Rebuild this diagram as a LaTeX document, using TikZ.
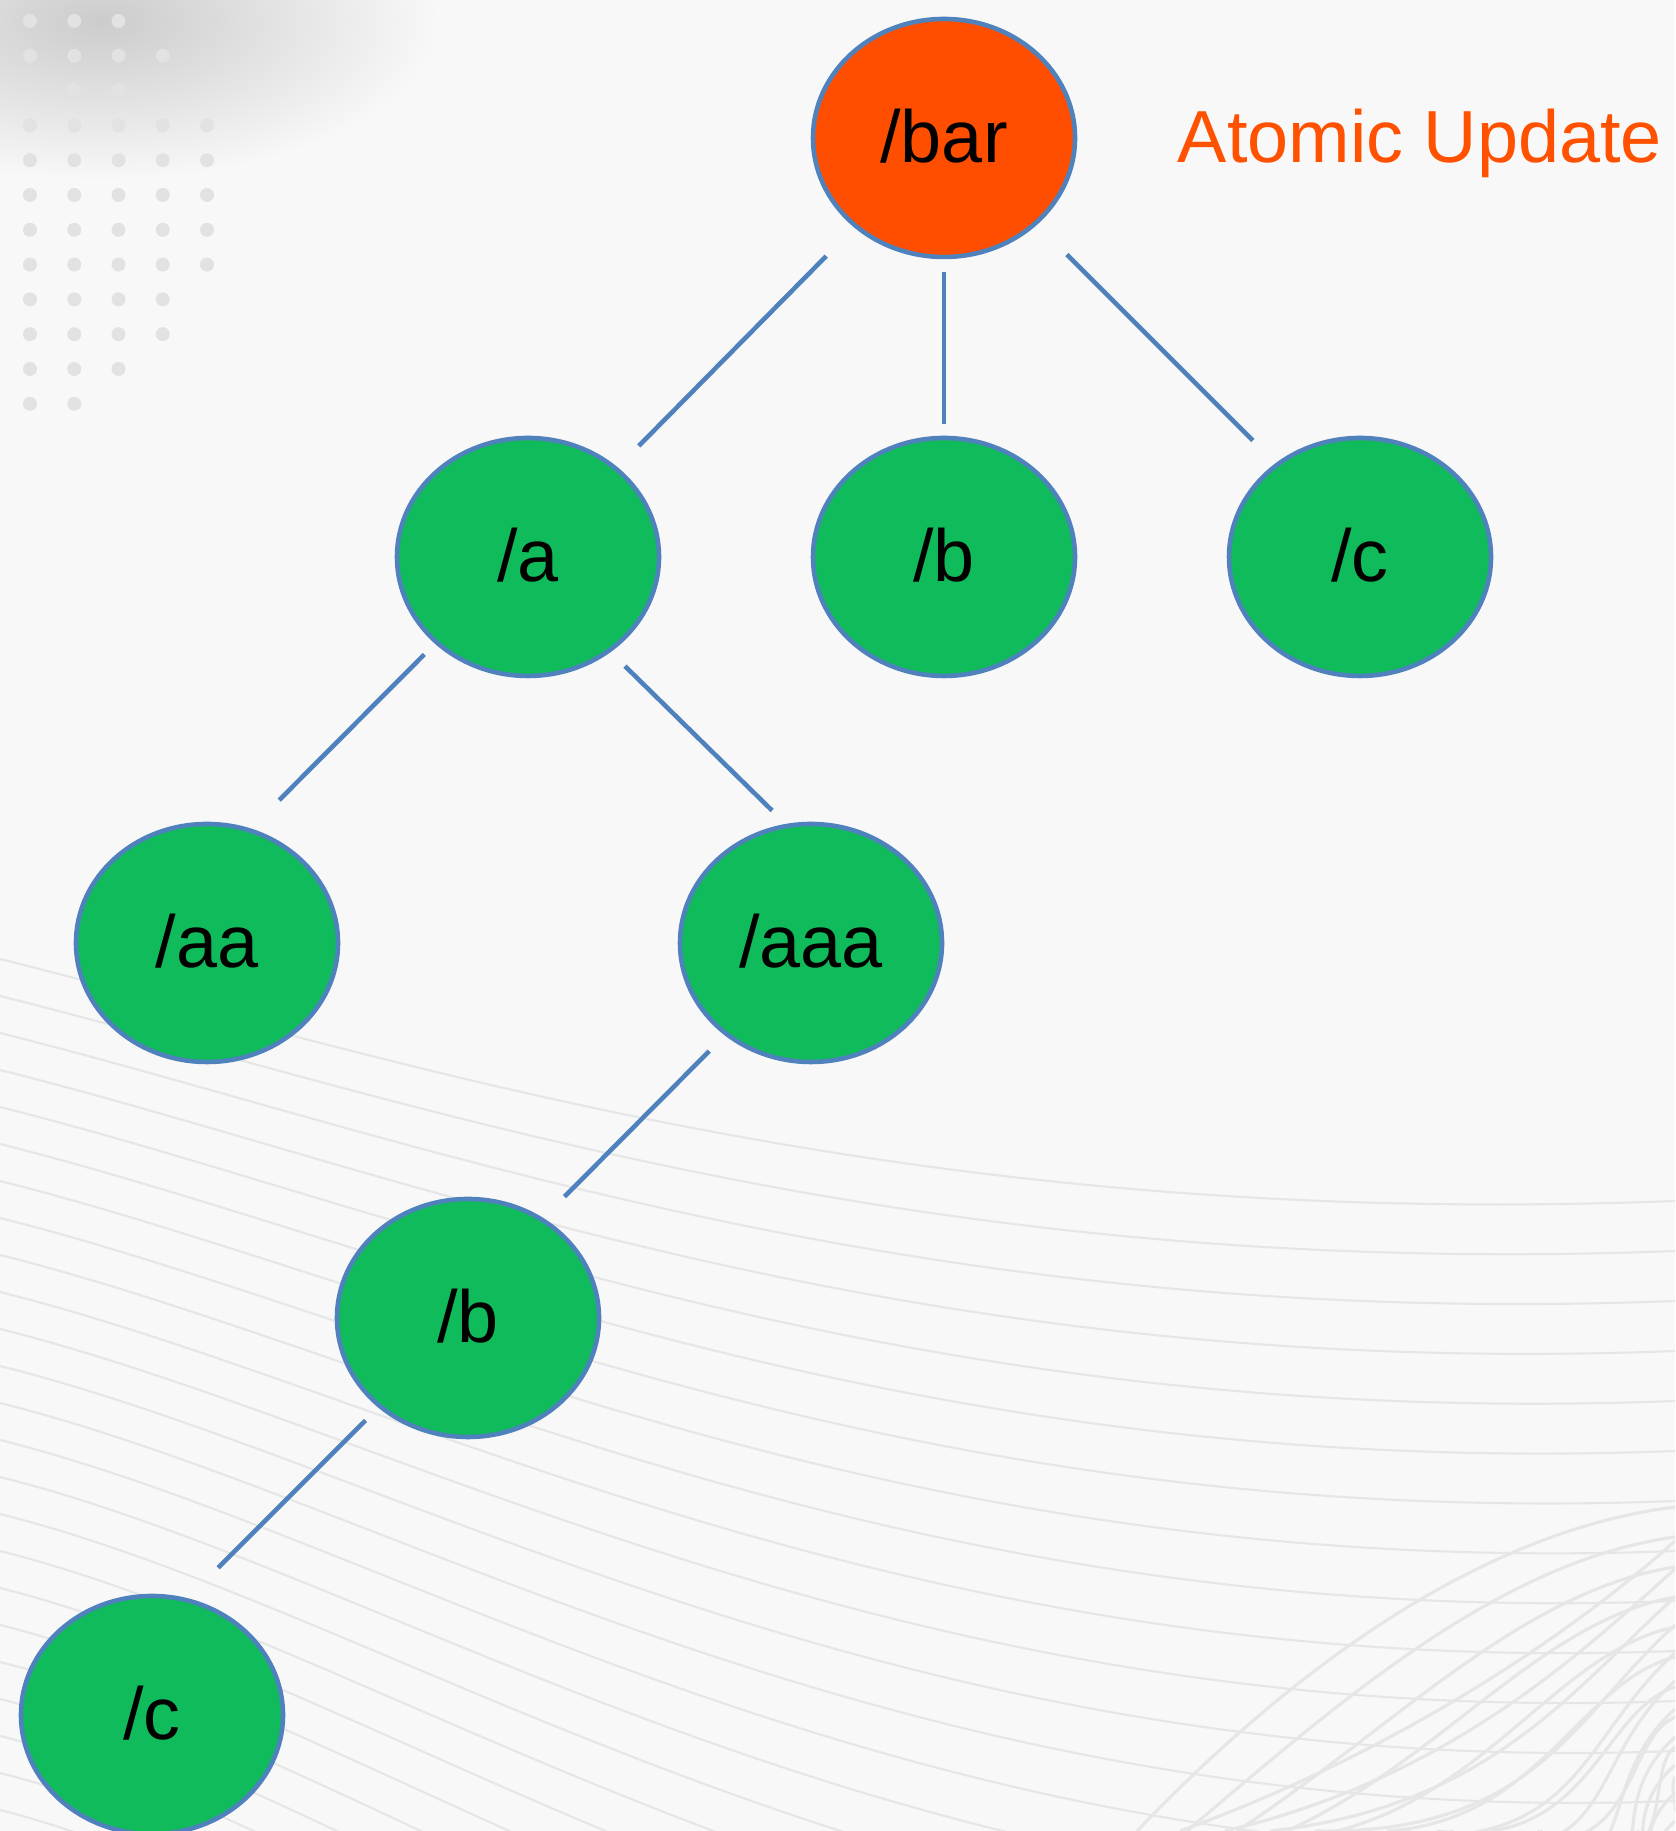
\documentclass[tikz,border=0pt]{standalone}
\usepackage{fontspec}
\setmainfont{Liberation Sans}
\usetikzlibrary{shapes.geometric}
\definecolor{bgcol}{HTML}{F8F8F8}
\definecolor{dotgray}{HTML}{E2E2E2}
\definecolor{swirl}{HTML}{E6E6E6}
\definecolor{nodegreen}{HTML}{10BB5B}
\definecolor{rootorange}{HTML}{FF4E00}
\definecolor{noteorange}{HTML}{FF5100}
\definecolor{edgeblue}{HTML}{4F81BD}

\begin{document}
\begin{tikzpicture}[
		dir/.style={ellipse, draw=edgeblue, line width=1.3pt, fill=nodegreen,
			minimum width=2.62cm, minimum height=2.38cm, inner sep=0pt,
			text height=0.5cm, text depth=0pt, font=\fontsize{21}{25}\selectfont},
		link/.style 2 args={draw=edgeblue, line width=1.3pt, shorten <=#1cm, shorten >=#2cm}]
		\useasboundingbox (0, 0) rectangle (16.75, 18.31);
		\clip (0, 0) rectangle (16.75, 18.31);
		\fill[bgcol] (0, 0) rectangle (16.75, 18.31);
		% shadow and dot grid, top left
		\shade[inner color=gray!40, outer color=bgcol] (1.0, 18.1) ellipse (3.4 and 1.6);
		\foreach \row/\cols in {0/3, 1/4, 3/5, 4/5, 5/5, 6/5, 7/5, 8/4, 9/4, 10/3, 11/2}
			\foreach \col in {1, ..., \cols}
				\fill[dotgray] ({0.30 + 0.4425*(\col - 1)}, {18.10 - 0.348*\row}) circle (0.07);
		\foreach \x in {0.74, 1.18}
			\fill[dotgray] (\x, 17.41) circle (0.07);
		% swept lines, lower half
		\foreach \k in {0, ..., 24}
			\draw[swirl, line width=0.6pt] (0, {8.72 - 0.37*\k}) .. controls (4, {7.72 - 0.37*\k}) and (9, {6.0 - 0.5*\k}) .. (16.75, {6.3 - 0.5*\k});
		\foreach \k in {0, ..., 11} {
			\draw[swirl, line width=0.9pt] ({11.37 + 0.5*\k}, 0) .. controls ({12.9 + 0.5*\k}, {1.6 - 0.3*\k}) and ({14.8 + 0.2*\k}, {3.0 - 0.3*\k}) .. (16.75, {3.24 - 0.3*\k});
			\draw[swirl, line width=0.9pt] ({11.8 + 0.45*\k}, 0) .. controls ({14.0 + 0.45*\k}, {0.8 - 0.28*\k}) and (15.75, {2.0 - 0.28*\k}) .. (16.75, {2.9 - 0.28*\k});
		}

		\node[dir, fill=rootorange] (bar) at (9.44, 16.93) {/bar};
		\node[anchor=base, text=noteorange, font=\fontsize{21}{25}\selectfont] (note) at (14.20, 16.68) {Atomic Update};
		\node[dir] (a) at (5.28, 12.74) {/a};
		\node[dir] (b) at (9.44, 12.74) {/b};
		\node[dir] (c) at (13.60, 12.74) {/c};
		\node[dir] (aa) at (2.07, 8.88) {/aa};
		\node[dir] (aaa) at (8.11, 8.88) {/aaa};
		\node[dir] (aaab) at (4.68, 5.13) {/b};
		\node[dir] (aaabc) at (1.52, 1.16) {/c};

		\draw[link={0.40}{0.30}] (bar.225) -- (a.45);
		\draw[link={0.13}{0.12}] (bar.270) -- (b.90);
		\draw[link={0.42}{0.32}] (bar.317) -- (c.132);
		\draw[link={0.15}{0.40}] (a.223) -- (aa.69);
		\draw[link={0.20}{0.19}] (a.311) -- (aaa.102);
		\draw[link={0.22}{0.30}] (aaa.227) -- (aaab.53);
		\draw[link={0.18}{0.43}] (aaab.225) -- (aaabc.73);
	\end{tikzpicture}
\end{document}
